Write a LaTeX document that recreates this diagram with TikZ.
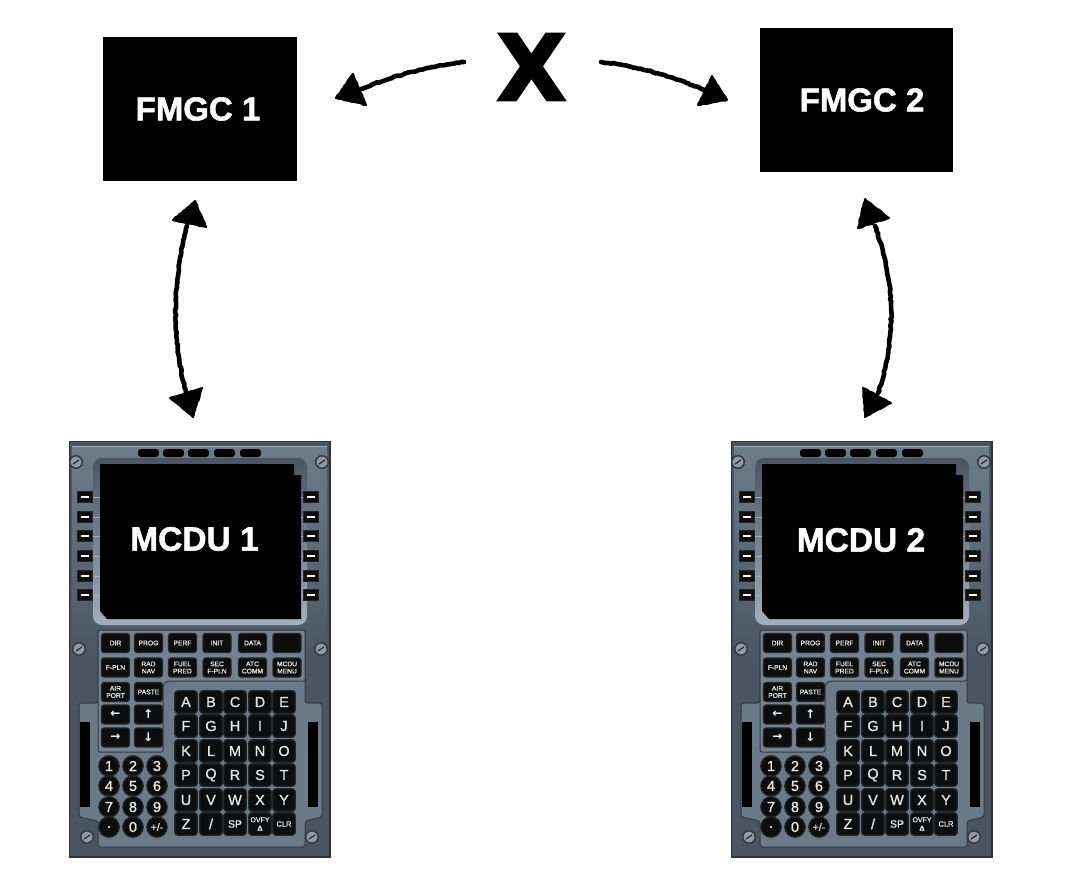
\documentclass[tikz,border=0pt]{standalone}
\usepackage{fontspec}
\setmainfont{Liberation Sans}
\newfontfamily\labelfont[FakeBold=1.6]{Liberation Sans Bold}
\newfontfamily\keyfont[FakeBold=1]{Liberation Sans}
\newfontfamily\heavyfont[FakeBold=2]{DejaVu Sans Bold}
\newfontfamily\arrowfont{DejaVu Sans Bold}
\usetikzlibrary{decorations.pathmorphing,shapes.geometric}
\definecolor{frameE}{HTML}{2E3339}
\definecolor{frameD}{HTML}{4A5561}
\definecolor{frameM}{HTML}{5E6A77}
\definecolor{plateT}{HTML}{6E7C89}
\definecolor{plateL}{HTML}{6C7A88}
\definecolor{plateG}{HTML}{74828F}
\definecolor{bezelL}{HTML}{A3AFBA}
\definecolor{keyK}{HTML}{0C0D0F}
\definecolor{keyE}{HTML}{23272C}
\definecolor{keyT}{HTML}{E4E6E8}
\tikzset{
  x=1pt,y=-1pt,
  fmgc/.style={fill=black,draw=none,text=white,font=\labelfont\fontsize{33}{33}\selectfont,inner sep=0},
  screenlabel/.style={text=white,font=\labelfont\fontsize{33.5}{33.5}\selectfont,inner sep=0},
  handline/.style={line width=4.6pt,draw=black,line cap=round,
     decorate,decoration={random steps,segment length=2.5pt,amplitude=.6pt}},
  handhead/.style={fill=black,draw=black,line width=2pt,line join=round,
     decorate,decoration={random steps,segment length=2.5pt,amplitude=.5pt}},
  fkey/.style={draw=keyE,line width=1.2pt,fill=keyK,rounded corners=2.5pt,minimum width=28pt,minimum height=19pt,inner sep=0,
     text=keyT,align=center,font=\keyfont\fontsize{6.7}{7.2}\selectfont},
  akey/.style={draw=keyE,line width=1.2pt,fill=keyK,rounded corners=3pt,minimum width=22.5pt,minimum height=22.5pt,inner sep=0,
     text=keyT,align=center,font=\keyfont\fontsize{14.5}{14.5}\selectfont},
  nkey/.style={circle,draw=keyE,line width=1.2pt,fill=keyK,minimum size=20.5pt,inner sep=0,
     text=keyT,font=\keyfont\fontsize{14.5}{14.5}\selectfont},
  lsk/.style={fill=keyK,draw=keyE,line width=.5pt,minimum width=15pt,minimum height=11pt,inner sep=0},
  slot/.style={fill=black,rounded corners=3pt,minimum width=21pt,minimum height=8pt,inner sep=0},
  screw/.style={circle,draw=frameE!70!frameD,line width=1.6pt,fill=plateG!80!white,minimum size=12.5pt,inner sep=0},
}
\newcommand{\mcdupanel}[4]{%
 \begin{scope}[xshift=#2pt]
  % body
  \fill[frameD,draw=frameE,line width=1.6pt] (69.5,441.5) rectangle (330,857);
  \shade[top color=plateT,bottom color=frameD] (72,446) rectangle (327,665);
  \draw[bezelL,line width=.9pt] (72,446.5) -- (327,446.5);
  % bezel and screen
  \shade[top color=frameD,bottom color=bezelL,rounded corners=9pt] (93,458) rectangle (307,625);
  \fill[black] (100,464) -- (294,464) -- (294,475) -- (301,475) -- (301,619) -- (107,619) -- (100,611) -- cycle;
  \node[screenlabel] (label#1) at (#3,#4) {MCDU #1};
  % annunciator slots
  \foreach \cx/\sn in {148.5/a,173.5/b,198.5/c,224.5/d,250.5/e}
    \node[slot] (slot#1\sn) at (\cx,453) {};
  % line select keys
  \foreach \cy/\sn in {497/a,517/b,536/c,556/d,576/e,595/f}{
    \draw[bezelL,line width=.6pt] (92,\cy) -- (100,\cy) (301,\cy) -- (303,\cy);
    \node[lsk] (lskl#1\sn) at (85,\cy) {};
    \fill[white] (81,\cy-.8) rectangle (89,\cy+.8);
    \node[lsk] (lskr#1\sn) at (311,\cy) {};
    \fill[white] (307,\cy-.8) rectangle (315,\cy+.8);
  }
  % lower plate
  \fill[plateL,draw=frameE!80!frameD,line width=1pt,rounded corners=2.5pt]
     (98,630) -- (305,630) -- (305,703) -- (322,703) -- (322,817) -- (305,821) -- (305,847) -- (98,847) -- (98,821) -- (79,817) -- (79,703) -- (98,703) -- cycle;
  \fill[plateG,draw=frameE!80!frameD,line width=1pt,rounded corners=2pt]
     (98,630) -- (305,630) -- (305,681) -- (167,681) -- (163,685) -- (163,752) -- (98,752) -- cycle;
  \fill[black] (80,722) rectangle (90,807);
  \fill[black] (308,722) rectangle (318,807);
  % screws
  \foreach \sx/\sy/\sn in {76/462/a,322/462/b,79/649/c,321/649/d,87/837/e,312/837/f}{
    \node[screw] (screw#1\sn) at (\sx,\sy) {};
    \draw[frameE,line width=1.3pt] (\sx-3,\sy+2) -- (\sx+3,\sy-2);
  }
  % function keys
  \foreach \cx/\cy/\tx/\sn in {115.5/643/DIR/a,148.5/643/PROG/b,182.5/643/PERF/c,217/643/INIT/d,252.5/643/DATA/e,287/643/{}/f,
     115.5/667.5/F-PLN/g,148.5/667.5/{RAD\\NAV}/h,182.5/667.5/{FUEL\\PRED}/i,217/667.5/{SEC\\F-PLN}/j,252.5/667.5/{ATC\\COMM}/k,287/667.5/{MCDU\\MENU}/l,
     115.5/692/{AIR\\PORT}/m,148.5/692/PASTE/n}
    \node[fkey] (f#1\sn) at (\cx,\cy) {\tx};
  \foreach \cx/\cy/\tx/\sn in {115.5/714.5/←/o,148.5/714.5/↑/p,115.5/737.5/→/q,148.5/737.5/↓/r}
    \node[fkey,font=\arrowfont\fontsize{12}{12}\selectfont,text=white] (f#1\sn) at (\cx,\cy) {\tx};
  % alpha keys
  \foreach \cx/\cy/\tx/\sn in {186/702/A/a,211/702/B/b,235/702/C/c,260/702/D/d,284/702/E/e,
     186/726/F/f,211/726/G/g,235/726/H/h,260/726/I/i,284/726/J/j,
     186/751/K/k,211/751/L/l,235/751/M/m,260/751/N/n,284/751/O/o,
     186/775/P/p,211/775/Q/q,235/775/R/r,260/775/S/s,284/775/T/t,
     186/800/U/u,211/800/V/v,235/800/W/w,260/800/X/x,284/800/Y/y,
     186/824/Z/z,211/824/{/}/sl}
    \node[akey] (a#1\sn) at (\cx,\cy) {\tx};
  \node[akey,font=\keyfont\fontsize{10.5}{10.5}\selectfont] (sp#1) at (235,824) {SP};
  \node[akey,font=\keyfont\fontsize{7}{7.5}\selectfont] (ovfy#1) at (260,824) {OVFY\\[1pt]{\labelfont Δ}};
  \node[akey,font=\keyfont\fontsize{7.5}{7.5}\selectfont] (clr#1) at (284,824) {CLR};
  % number keys
  \foreach \cx/\cy/\tx/\sn in {109/766/1/a,133/766/2/b,157/766/3/c,109/786/4/d,133/786/5/e,157/786/6/f,
     109/807/7/g,133/807/8/h,157/807/9/i,109/827/{.}/j,133/827/0/k}
    \node[nkey] (n#1\sn) at (\cx,\cy) {\tx};
  \node[nkey,font=\keyfont\fontsize{10.5}{10.5}\selectfont] (n#1l) at (157,827) {+/-};
 \end{scope}
}
\begin{document}
\begin{tikzpicture}
\useasboundingbox (0,0) rectangle (1080,869);
\fill[white] (0,0) rectangle (1080,869);
\node[fmgc,minimum width=194pt,minimum height=144pt] (fmgc1) at (200,109) {\hspace*{-4pt}FMGC 1};
\node[fmgc,minimum width=193pt,minimum height=144pt] (fmgc2) at (856.5,100) {\hspace*{11pt}FMGC 2};
\node[inner sep=0,text=black,font=\heavyfont\fontsize{92}{92}\selectfont] (cross) at (531.5,67) {X};
\mcdupanel{1}{0}{194.5}{539}
\mcdupanel{2}{662}{199}{540}
% connector ends
\coordinate (xl) at (464,62);
\coordinate (xr) at (601,62);
\coordinate (h1) at (361,89);
\coordinate (h2) at (705,90);
\coordinate (u1) at (187,226);
\coordinate (d1) at (186,392);
\coordinate (u2) at (875,226);
\coordinate (d2) at (878,393);
% connectors
\draw[handline] (xl) .. controls (425,67) and (390,77) .. (h1);
\draw[handline] (xr) .. controls (640,66) and (675,78) .. (h2);
\draw[handline] (u1) .. controls (172,285) and (172,340) .. (d1);
\draw[handline] (u2) .. controls (896,285) and (896,340) .. (d2);
% arrowheads
\filldraw[handhead] (336,98) -- (353,74) -- (366,105) -- cycle;
\filldraw[handhead] (727,100) -- (712,76) -- (698,105) -- cycle;
\filldraw[handhead] (195,201) -- (173,220) -- (206,227) -- cycle;
\filldraw[handhead] (193,417) -- (170,398) -- (202,388) -- cycle;
\filldraw[handhead] (865,199) -- (858,228) -- (889,218) -- cycle;
\filldraw[handhead] (865,417) -- (863,388) -- (891,403) -- cycle;
\end{tikzpicture}
\end{document}
